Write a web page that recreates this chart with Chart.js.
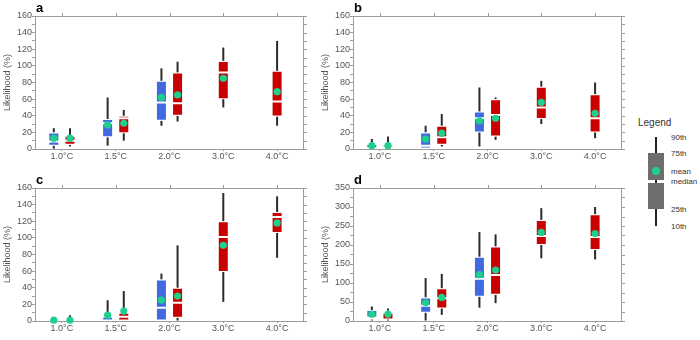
<!DOCTYPE html>
<html lang="en">
<head>
<meta charset="UTF-8">
<title>Likelihood by warming level</title>
<script src="https://cdn.jsdelivr.net/npm/chart.js@4/dist/chart.umd.min.js"></script>
<style>
  body { margin: 0; background: #fff; font-family: "Liberation Sans", Arial, sans-serif; }
  #wrap { position: relative; width: 700px; height: 340px; overflow: hidden; }
  .panel { position: absolute; width: 312px; height: 165px; }
  .lg { position: absolute; }
  .lg-text { position: absolute; font-size: 8px; color: #333; line-height: 10px; }
</style>
</head>
<body>
<div id="wrap">
  <div class="panel" style="left:0;top:0"><canvas id="chartA" width="312" height="165"></canvas></div>
  <div class="panel" style="left:318px;top:0"><canvas id="chartB" width="312" height="165"></canvas></div>
  <div class="panel" style="left:0;top:172px"><canvas id="chartC" width="312" height="165"></canvas></div>
  <div class="panel" style="left:318px;top:172px"><canvas id="chartD" width="312" height="165"></canvas></div>

  <!-- key for the box symbols -->
  <div class="lg" style="left:638px;top:117px;font-size:10px;color:#333">Legend</div>
  <div class="lg" style="left:655px;top:137px;width:2px;height:89px;background:#222"></div>
  <div class="lg" style="left:648px;top:153px;width:16px;height:27px;background:#6e6e6e"></div>
  <div class="lg" style="left:648px;top:183px;width:16px;height:26px;background:#6e6e6e"></div>
  <div class="lg" style="left:652px;top:167px;width:8px;height:8px;border-radius:50%;background:#1fcf8c"></div>
  <div class="lg-text" style="left:671px;top:133px">90th</div>
  <div class="lg-text" style="left:671px;top:149px">75th</div>
  <div class="lg-text" style="left:671px;top:167px">mean</div>
  <div class="lg-text" style="left:671px;top:177px">median</div>
  <div class="lg-text" style="left:671px;top:205px">25th</div>
  <div class="lg-text" style="left:671px;top:222px">10th</div>
</div>

<script>
const categories = ['1.0°C', '1.5°C', '2.0°C', '3.0°C', '4.0°C'];

// rows: [10th, 25th, median, 75th, 90th, mean], null where there is no box
const aBlue = [[0.5, 4, 9, 20, 25, 13], [4, 14, 31, 36, 62, 29], [28, 34, 56, 82, 97, 62], null, null];
const aRed  = [[3, 5, 10, 16, 25, 13], [10, 19, 37, 40, 47, 31], [33, 40, 55, 92, 105, 65], [50, 60, 92, 106, 122, 85], [28, 39, 57, 94, 130, 69]];

const bBlue = [[0, 0, 1, 6, 12, 4], [0, 0, 4, 20, 28, 12], [3, 20, 37, 45, 74, 34], null, null];
const bRed  = [[0, 0, 2, 5, 15, 4], [3, 5, 14, 28, 42, 19], [11, 15, 41, 60, 62, 37], [30, 36, 50, 75, 82, 56], [13, 20, 37, 66, 80, 43]];

const cBlue = [[0, 0, 0, 0, 0, 1], [0, 0, 0, 5, 25, 7], [0, 0, 16, 50, 57, 25], null, null];
const cRed  = [[0, 0, 0, 0, 7, 1], [0, 0, 5, 10, 36, 12], [0, 4, 22, 40, 91, 30], [23, 59, 101, 120, 154, 91], [76, 106, 125, 131, 150, 118]];

const dBlue = [[0, 4, 9, 29, 38, 18], [0, 22, 40, 62, 113, 48], [35, 64, 111, 169, 234, 122], null, null];
const dRed  = [[0, 4, 22, 27, 33, 18], [16, 33, 60, 86, 124, 62], [47, 69, 121, 196, 228, 134], [165, 200, 224, 266, 297, 233], [162, 187, 221, 281, 300, 230]];

// y axis: max, minor step, labelled step
const yAxisABC = [160, 10, 20];
const yAxisD = [350, 25, 50];

const FONT = 'Liberation Sans, Arial, sans-serif';
const BLUE = '#4169e1';
const RED = '#c80000';
const AXIS = '#9c9c9c';

const slot = { skipNull: true, categoryPercentage: 0.6, barPercentage: 1 };

// box = two floating bars (25th-median, median-75th), white edges give the median gap
function boxSets(rows, color, stack) {
  const common = Object.assign({
    stack: stack, backgroundColor: color, borderColor: 'rgba(255,255,255,0.85)',
    borderWidth: 1, borderSkipped: false, maxBarThickness: 11
  }, slot);
  return [
    Object.assign({}, common, { data: rows.map(r => r && [r[2], r[3]]), means: rows.map(r => r && r[5]) }),
    Object.assign({}, common, { data: rows.map(r => r && [r[1], r[2]]) })
  ];
}

// whiskers: 10th-25th below the box, 75th-90th above it
function whiskerSets(rows, stack) {
  const common = Object.assign({
    stack: stack, backgroundColor: '#2b2b2b', borderWidth: 0, maxBarThickness: 2
  }, slot);
  return [
    Object.assign({}, common, { data: rows.map(r => r && [r[0], r[1]]) }),
    Object.assign({}, common, { data: rows.map(r => r && [r[3], r[4]]) })
  ];
}

// mean markers, placed on the x of each box
const meanDots = {
  id: 'meanDots',
  afterDatasetsDraw(chart) {
    const ctx = chart.ctx;
    const y = chart.scales.y;
    ctx.save();
    ctx.fillStyle = '#1fcf8c';
    chart.data.datasets.forEach((ds, i) => {
      if (!ds.means) return;
      const meta = chart.getDatasetMeta(i);
      ds.means.forEach((m, j) => {
        if (m == null) return;
        ctx.beginPath();
        ctx.arc(meta.data[j].x, y.getPixelForValue(m), 3.6, 0, Math.PI * 2);
        ctx.fill();
      });
    });
    ctx.restore();
  }
};

// top/right frame with outside ticks, plus the panel letter
const frame = {
  id: 'frame',
  afterDraw(chart, args, opts) {
    const { ctx, chartArea: a, scales: { x, y } } = chart;
    ctx.save();
    ctx.strokeStyle = AXIS;
    ctx.lineWidth = 1;
    ctx.beginPath();
    ctx.moveTo(a.left, a.top + 0.5); ctx.lineTo(a.right, a.top + 0.5);
    ctx.moveTo(a.right - 0.5, a.top); ctx.lineTo(a.right - 0.5, a.bottom);
    y.ticks.forEach(t => {
      const py = Math.round(y.getPixelForValue(t.value)) + 0.5;
      ctx.moveTo(a.right, py); ctx.lineTo(a.right + 3, py);
    });
    x.ticks.forEach((t, i) => {
      const px = Math.round(x.getPixelForTick(i)) + 0.5;
      ctx.moveTo(px, a.top); ctx.lineTo(px, a.top - 3);
    });
    ctx.stroke();
    ctx.fillStyle = '#000';
    ctx.font = 'bold 13px ' + FONT;
    ctx.textBaseline = 'alphabetic';
    ctx.fillText(opts.letter, a.left + 1, a.top - 4);
    ctx.restore();
  }
};

function makeChart(id, letter, blue, red, yAxis) {
  const [yMax, yStep, yLabelStep] = yAxis;
  new Chart(document.getElementById(id), {
    type: 'bar',
    data: {
      labels: categories,
      datasets: [
        ...boxSets(blue, BLUE, 'blue'),
        ...boxSets(red, RED, 'red'),
        ...whiskerSets(blue, 'blue'),
        ...whiskerSets(red, 'red')
      ]
    },
    options: {
      responsive: false,
      animation: false,
      events: [],
      layout: { padding: { top: 16, right: 8, left: 0, bottom: 0 } },
      plugins: { legend: { display: false }, tooltip: { enabled: false }, frame: { letter: letter } },
      scales: {
        x: {
          offset: true,
          afterFit: s => { s.height = 16; },
          grid: { offset: false, drawOnChartArea: false, tickLength: 2, color: AXIS },
          border: { color: AXIS },
          ticks: { color: '#555', font: { size: 9, family: FONT }, padding: 0, maxRotation: 0 }
        },
        y: {
          min: 0, max: yMax, stacked: false,
          afterFit: s => { s.width = 35; },
          grid: { drawOnChartArea: false, tickLength: 3, color: AXIS },
          border: { color: AXIS },
          ticks: {
            stepSize: yStep, autoSkip: false, padding: 0, color: '#555',
            font: { size: 9, family: FONT },
            callback: v => (v % yLabelStep === 0 ? v : '')
          },
          title: {
            display: true, text: 'Likelihood (%)', color: '#555',
            font: { size: 9, family: FONT }, padding: { top: 2, bottom: 0 }
          }
        }
      }
    },
    plugins: [meanDots, frame]
  });
}

makeChart('chartA', 'a', aBlue, aRed, yAxisABC);
makeChart('chartB', 'b', bBlue, bRed, yAxisABC);
makeChart('chartC', 'c', cBlue, cRed, yAxisABC);
makeChart('chartD', 'd', dBlue, dRed, yAxisD);
</script>
</body>
</html>
